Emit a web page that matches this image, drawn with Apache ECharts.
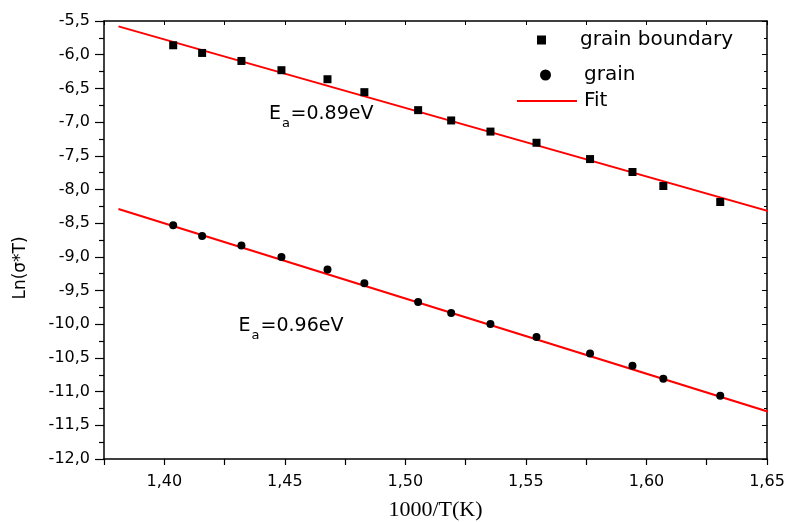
<!DOCTYPE html>
<html>
<head>
<meta charset="utf-8">
<script src="https://cdn.jsdelivr.net/npm/echarts@6/dist/echarts.min.js"></script>
<style>html,body{margin:0;padding:0;background:#fff}#c{width:787px;height:522px}</style>
</head>
<body>
<div id="c"></div>
<script>
const xValues = [1.4037, 1.4157, 1.432, 1.4486, 1.4677, 1.483, 1.5053, 1.519, 1.5353, 1.5544, 1.5766, 1.5942, 1.607, 1.6306];
const grainBoundary = [-5.86, -5.974, -6.093, -6.23, -6.364, -6.556, -6.823, -6.976, -7.141, -7.307, -7.549, -7.741, -7.949, -8.186];
const grain = [-8.531, -8.69, -8.833, -9.001, -9.189, -9.39, -9.669, -9.835, -9.998, -10.19, -10.433, -10.616, -10.808, -11.06];
const fitX = [1.381, 1.6534];
const fitBoundary = [-5.58, -8.35];
const fitGrain = [-8.29, -11.33];
const xLabels = [1.40, 1.45, 1.50, 1.55, 1.60, 1.65];

const pair = (xs, ys) => xs.map((x, i) => [x, ys[i]]);
const fmt = v => v.toFixed(2).replace('.', ',');
const fmtY = v => v.toFixed(1).replace('.', ',');
const FONT = '"DejaVu Sans", sans-serif';

const chart = echarts.init(document.getElementById('c'));
const subText = (x, y, t, size) => ({ type: 'text', x: x, y: y, silent: true,
  style: { text: t, fontFamily: FONT, fontSize: size, fill: '#000', align: 'left', verticalAlign: 'middle' } });

chart.setOption({
  animation: false,
  backgroundColor: '#fff',
  grid: { left: 104, right: 20, top: 21, bottom: 63, containLabel: false, outerBoundsMode: 'none' },
  xAxis: [{
    type: 'value', min: 1.375, max: 1.65, interval: 0.025,
    axisLine: { lineStyle: { color: '#000', width: 1.5 } },
    axisTick: { show: true, inside: false, length: 6, lineStyle: { color: '#000', width: 1.2 } },
    splitLine: { show: false },
    axisLabel: { color: '#000', fontFamily: FONT, fontSize: 16, margin: 15,
      formatter: v => xLabels.some(l => Math.abs(l - v) < 1e-6) ? fmt(v) : '' },
    name: '1000/T(K)', nameLocation: 'middle', nameGap: 40,
    nameTextStyle: { color: '#000', fontFamily: '"Liberation Serif", "Times New Roman", serif', fontSize: 22 }
  }, {
    type: 'value', position: 'top', min: 1.375, max: 1.65, interval: 0.025,
    axisLine: { show: true, lineStyle: { color: '#000', width: 1.5 } },
    axisTick: { show: true, inside: true, length: 4, lineStyle: { color: '#000' } },
    axisLabel: { show: false }, splitLine: { show: false }
  }],
  yAxis: [{
    type: 'value', min: -12, max: -5.5, interval: 0.5,
    axisLine: { show: true, lineStyle: { color: '#000', width: 1.5 } },
    axisTick: { show: true, inside: false, length: 9, lineStyle: { color: '#000', width: 1.2 } },
    minorTick: { show: true, splitNumber: 2, length: 5, lineStyle: { color: '#000', width: 1.2 } },
    splitLine: { show: false }, minorSplitLine: { show: false },
    axisLabel: { color: '#000', fontFamily: FONT, fontSize: 16, margin: 14, formatter: v => fmtY(v) }
  }, {
    type: 'value', position: 'right', min: -12, max: -5.5, interval: 0.5,
    axisLine: { show: true, lineStyle: { color: '#000', width: 1.5 } },
    axisTick: { show: true, inside: true, length: 5, lineStyle: { color: '#000' } },
    minorTick: { show: true, splitNumber: 2, length: 3, lineStyle: { color: '#000' } },
    axisLabel: { show: false }, splitLine: { show: false }
  }],
  legend: [{
    left: 537, top: 30, padding: 0, itemWidth: 9, itemHeight: 9, itemGap: 0,
    data: [{ name: 'grain boundary', icon: 'rect' }],
    textStyle: { color: '#000', fontFamily: FONT, fontSize: 20, padding: [0, 0, 0, 29] }
  }, {
    left: 540, top: 65, padding: 0, itemWidth: 11, itemHeight: 11, itemGap: 0,
    data: [{ name: 'grain', icon: 'circle' }],
    textStyle: { color: '#000', fontFamily: FONT, fontSize: 20, padding: [0, 0, 0, 28] }
  }, {
    left: 517, top: 91, padding: 0, itemWidth: 60, itemHeight: 14, itemGap: 0,
    data: [{ name: 'Fit', icon: 'path://M0,6 L60,6 L60,8 L0,8 Z' }],
    textStyle: { color: '#000', fontFamily: FONT, fontSize: 20, padding: [0, 0, 0, 2] }
  }],
  series: [{
    name: 'Fit', type: 'line', data: pair(fitX, fitBoundary), showSymbol: false, symbol: 'none',
    clip: false, lineStyle: { color: '#ff0000', width: 2 }, itemStyle: { color: '#ff0000' }, z: 2
  }, {
    name: 'Fit', type: 'line', data: pair(fitX, fitGrain), showSymbol: false, symbol: 'none',
    clip: false, lineStyle: { color: '#ff0000', width: 2 }, itemStyle: { color: '#ff0000' }, z: 2
  }, {
    name: 'grain boundary', type: 'scatter', data: pair(xValues, grainBoundary),
    symbol: 'rect', symbolSize: 8, itemStyle: { color: '#000', opacity: 1 }, z: 3
  }, {
    name: 'grain', type: 'scatter', data: pair(xValues, grain),
    symbol: 'circle', symbolSize: 8, itemStyle: { color: '#000', opacity: 1 }, z: 3
  }],
  graphic: [
    { type: 'text', x: 21, y: 268, rotation: Math.PI / 2, silent: true,
      style: { text: 'Ln(σ*T)', fontFamily: FONT, fontSize: 17, fill: '#000', align: 'center', verticalAlign: 'middle' } },
    subText(269, 114.5, 'E', 19), subText(282, 123.5, 'a', 13), subText(290.5, 114.5, '=0.89eV', 19),
    subText(238.5, 326.5, 'E', 19), subText(251.5, 335.5, 'a', 13), subText(260.5, 326.5, '=0.96eV', 19)
  ]
});
</script>
</body>
</html>
